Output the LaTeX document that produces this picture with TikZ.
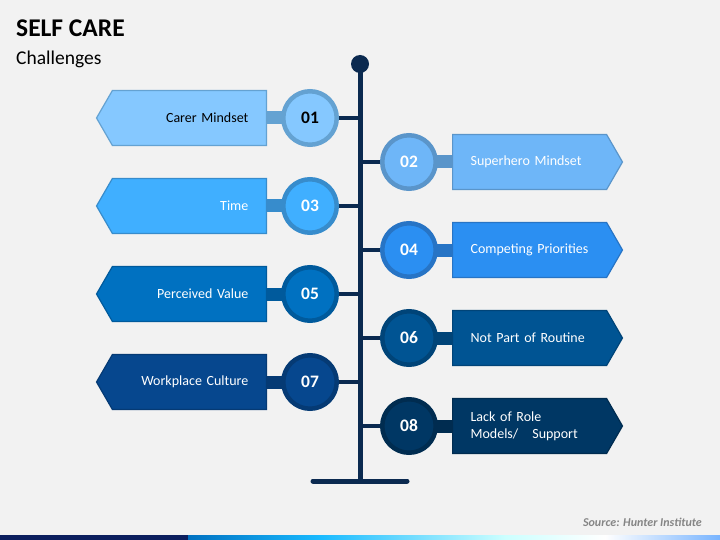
\documentclass[tikz,border=0pt]{standalone}
\usepackage{fontspec}
\setmainfont{Carlito}
\usepackage{xcolor}
\usetikzlibrary{shapes.symbols}

\definecolor{bgpage}{HTML}{F2F2F2}
\definecolor{spine}{HTML}{0B2A50}
\definecolor{fill01}{HTML}{85C8FF}\definecolor{ring01}{HTML}{64A2D2}
\definecolor{fill02}{HTML}{6EB6F8}\definecolor{ring02}{HTML}{5A95CA}
\definecolor{fill03}{HTML}{40AFFF}\definecolor{ring03}{HTML}{378CCC}
\definecolor{fill04}{HTML}{2B8FF2}\definecolor{ring04}{HTML}{2774C5}
\definecolor{fill05}{HTML}{0071C1}\definecolor{ring05}{HTML}{005A9C}
\definecolor{fill06}{HTML}{005493}\definecolor{ring06}{HTML}{004478}
\definecolor{fill07}{HTML}{06478E}\definecolor{ring07}{HTML}{053A74}
\definecolor{fill08}{HTML}{003764}\definecolor{ring08}{HTML}{002C50}
\definecolor{barnavy}{HTML}{0C1F5E}
\definecolor{source}{HTML}{858585}

\begin{document}
\begin{tikzpicture}[x=1pt, y=-1pt,
    lbox/.style={signal, signal to=west, signal pointer angle=120, minimum height=55pt,
                 inner xsep=18pt, inner ysep=0pt, text width=118pt, align=right,
                 line width=1.2pt, anchor=east, text=white, font=\fontsize{14}{17}\selectfont},
    rbox/.style={signal, signal to=east, signal pointer angle=120, minimum height=55pt,
                 inner xsep=18pt, inner ysep=0pt, text width=118pt, align=left,
                 line width=1.2pt, anchor=west, text=white, font=\fontsize{14}{17}\selectfont},
    num/.style={circle, minimum size=53.5pt, inner sep=0pt, line width=4.5pt, text=white,
                font=\bfseries\fontsize{17.5}{20}\selectfont},
    link/.style={line width=13pt},
    tie/.style={spine, line width=4pt}]
  % Page
  \fill[bgpage] (0,0) rectangle (720,540);
  \useasboundingbox (0,0) rectangle (720,540);

  % Title
  \node[anchor=base west, inner sep=0pt, font=\bfseries\fontsize{25.5}{30}\selectfont] (title) at (16,37) {SELF CARE};
  \node[anchor=base west, inner sep=0pt, font=\fontsize{19.5}{23}\selectfont] (subtitle) at (16,65) {Challenges};

  % Spine
  \coordinate (top) at (360,64);
  \coordinate (foot) at (360,481);
  \draw[spine, line width=5pt] (top) -- (foot);
  \fill[spine] (top) circle (9);
  \draw[spine, line width=5pt, line cap=round] (313,481) -- (407,481);

  % 01
  \node[lbox, fill=fill01, draw=ring01, text=black] (b01) at (267,118) {Carer Mindset};
  \coordinate (p01) at (310,118);
  \draw[link, ring01] (b01.east) -- (p01);
  \node[num, fill=fill01, draw=ring01, text=black] (c01) at (p01) {01};
  \draw[tie] (c01.east) -- (c01.east -| top);

  % 02
  \node[rbox, fill=fill02, draw=ring02] (b02) at (452,162) {Superhero Mindset};
  \coordinate (p02) at (409,162);
  \draw[link, ring02] (p02) -- (b02.west);
  \node[num, fill=fill02, draw=ring02] (c02) at (p02) {02};
  \draw[tie] (c02.west) -- (c02.west -| top);

  % 03
  \node[lbox, fill=fill03, draw=ring03] (b03) at (267,206) {Time};
  \coordinate (p03) at (310,206);
  \draw[link, ring03] (b03.east) -- (p03);
  \node[num, fill=fill03, draw=ring03] (c03) at (p03) {03};
  \draw[tie] (c03.east) -- (c03.east -| top);

  % 04
  \node[rbox, fill=fill04, draw=ring04] (b04) at (452,250) {Competing Priorities};
  \coordinate (p04) at (409,250);
  \draw[link, ring04] (p04) -- (b04.west);
  \node[num, fill=fill04, draw=ring04] (c04) at (p04) {04};
  \draw[tie] (c04.west) -- (c04.west -| top);

  % 05
  \node[lbox, fill=fill05, draw=ring05] (b05) at (267,294) {Perceived Value};
  \coordinate (p05) at (310,294);
  \draw[link, ring05] (b05.east) -- (p05);
  \node[num, fill=fill05, draw=ring05] (c05) at (p05) {05};
  \draw[tie] (c05.east) -- (c05.east -| top);

  % 06
  \node[rbox, fill=fill06, draw=ring06] (b06) at (452,338) {Not Part of Routine};
  \coordinate (p06) at (409,338);
  \draw[link, ring06] (p06) -- (b06.west);
  \node[num, fill=fill06, draw=ring06] (c06) at (p06) {06};
  \draw[tie] (c06.west) -- (c06.west -| top);

  % 07
  \node[lbox, fill=fill07, draw=ring07] (b07) at (267,382) {Workplace Culture};
  \coordinate (p07) at (310,382);
  \draw[link, ring07] (b07.east) -- (p07);
  \node[num, fill=fill07, draw=ring07] (c07) at (p07) {07};
  \draw[tie] (c07.east) -- (c07.east -| top);

  % 08
  \node[rbox, fill=fill08, draw=ring08] (b08) at (452,426) {Lack of Role\\Models/\ \ \ Support};
  \coordinate (p08) at (409,426);
  \draw[link, ring08] (p08) -- (b08.west);
  \node[num, fill=fill08, draw=ring08] (c08) at (p08) {08};
  \draw[tie] (c08.west) -- (c08.west -| top);

  % Source
  \node[anchor=base east, inner sep=0pt, text=source, font=\bfseries\itshape\fontsize{12}{14}\selectfont] (src) at (702,526) {Source: Hunter Institute};

  % Bottom bar
  \fill[barnavy] (0,535) rectangle (188,540);
  \shade[left color=fill05, right color=cyan!70!blue!90] (188,535) rectangle (320,540);
  \shade[left color=cyan!70!blue!90, right color=cyan!20] (320,535) rectangle (505,540);
  \shade[left color=cyan!20, right color=white] (505,535) rectangle (605,540);
  \shade[left color=white, right color=fill01!90!blue] (605,535) rectangle (720,540);
\end{tikzpicture}
\end{document}
